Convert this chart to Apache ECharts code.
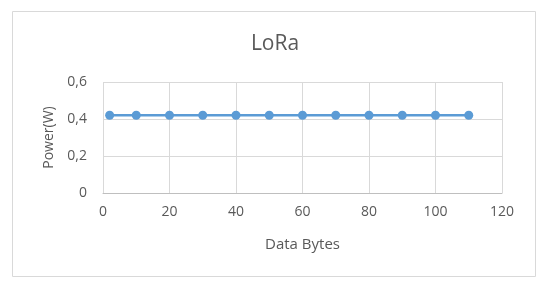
<!DOCTYPE html>
<html>
<head>
<meta charset="utf-8">
<script src="https://cdn.jsdelivr.net/npm/echarts@6/dist/echarts.min.js"></script>
<style>
  html, body { margin: 0; padding: 0; background: #fff; }
  #chart { width: 550px; height: 291px; }
</style>
</head>
<body>
<div id="chart"></div>
<script>
// data bytes on x, power (W) on y
const dataBytes = [2, 10, 20, 30, 40, 50, 60, 70, 80, 90, 100, 110];
const powerW = [0.42, 0.42, 0.42, 0.42, 0.42, 0.42, 0.42, 0.42, 0.42, 0.42, 0.42, 0.42];
const xTicks = [0, 20, 40, 60, 80, 100, 120];
const yTicks = [0, 0.2, 0.4, 0.6];

const textColor = "#595959";
const gridColor = "#d9d9d9";

let myChart = echarts.init(document.getElementById("chart"));
let option = {
  animation: false,
  textStyle: { fontFamily: "Open Sans, sans-serif" },
  title: {
    text: "LoRa",
    left: "center",
    top: 29,
    textStyle: {
      color: textColor,
      fontSize: 21,
      fontWeight: "normal",
      fontFamily: "Open Sans, sans-serif"
    }
  },
  graphic: [
    {
      type: "rect",
      shape: { x: 12.5, y: 11.5, width: 523, height: 265 },
      style: { fill: "none", stroke: gridColor, lineWidth: 1 },
      silent: true
    }
  ],
  grid: {
    left: 103,
    right: 48,
    top: 82,
    bottom: 98
  },
  xAxis: {
    type: "value",
    min: xTicks[0],
    max: xTicks[xTicks.length - 1],
    interval: 20,
    name: "Data Bytes",
    nameLocation: "middle",
    nameGap: 44,
    nameTextStyle: { color: textColor, fontSize: 15 },
    axisLine: { show: true, lineStyle: { color: "#bfbfbf", width: 1 } },
    axisTick: { show: false },
    axisLabel: { color: textColor, fontSize: 14, margin: 12 },
    splitLine: { show: true, lineStyle: { color: gridColor, width: 1 } }
  },
  yAxis: {
    type: "value",
    min: yTicks[0],
    max: yTicks[yTicks.length - 1],
    interval: 0.2,
    name: "Power(W)",
    nameLocation: "middle",
    nameGap: 43,
    nameTextStyle: { color: textColor, fontSize: 14 },
    axisLine: { show: false },
    axisTick: { show: false },
    axisLabel: {
      color: textColor,
      fontSize: 14,
      margin: 16,
      formatter: v => (v === 0 ? "0" : v.toFixed(1).replace(".", ","))
    },
    splitLine: { show: true, lineStyle: { color: gridColor, width: 1 } }
  },
  series: [
    {
      type: "line",
      data: dataBytes.map((x, i) => [x, powerW[i]]),
      symbol: "circle",
      symbolSize: 9,
      lineStyle: { color: "#5b9bd5", width: 2.5 },
      itemStyle: { color: "#5b9bd5" }
    }
  ]
};
myChart.setOption(option);
</script>
</body>
</html>
